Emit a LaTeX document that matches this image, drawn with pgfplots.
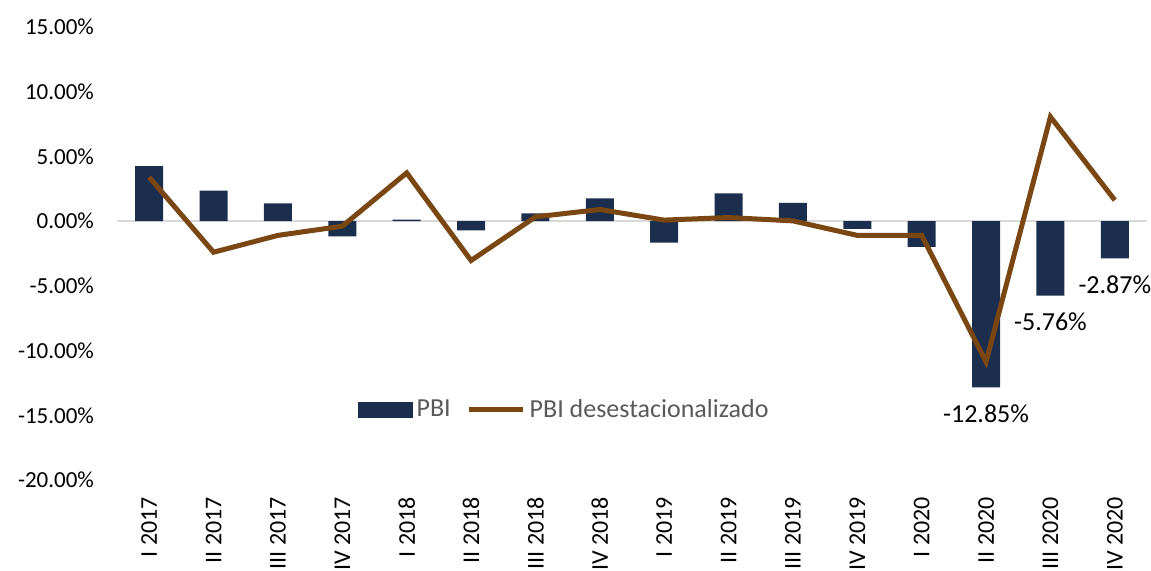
\documentclass[border=0pt]{standalone}
\usepackage{pgfplots}
\pgfplotsset{compat=1.18}
\usepackage{fontspec}
\setmainfont{Carlito}
\definecolor{barblue}{RGB}{27,46,77}
\definecolor{linebrown}{RGB}{122,70,18}
\definecolor{leggray}{RGB}{89,89,89}
\definecolor{zerogray}{RGB}{217,217,217}
\begin{document}
\begin{tikzpicture}
\useasboundingbox (0,0) rectangle (575.5pt,285pt);
\clip (0,0) rectangle (575.5pt,285pt);
\begin{axis}[
  at={(58.5pt,45pt)}, anchor=south west,
  scale only axis, width=515pt, height=226.5pt,
  xmin=-0.5, xmax=15.5, ymin=-20, ymax=15,
  axis line style={draw=none},
  major tick length=0pt,
  ytick={-20,-15,...,15},
  yticklabel={\pgfmathprintnumber[fixed,fixed zerofill,precision=2]{\tick}\%},
  /pgf/number format/assume math mode=true,
  y tick label style={font=\fontsize{11.5}{12}\selectfont, xshift=-8pt},
  xtick={0,...,15},
  xticklabels={I 2017,II 2017,III 2017,IV 2017,I 2018,II 2018,III 2018,IV 2018,I 2019,II 2019,III 2019,IV 2019,I 2020,II 2020,III 2020,IV 2020},
  x tick label style={rotate=90, anchor=east, font=\fontsize{12}{13}\selectfont, xshift=-5pt},
  extra y ticks={0},
  extra y tick labels={},
  extra y tick style={ymajorgrids=true, major grid style={draw=zerogray, line width=1pt}},
  legend columns=2,
  legend style={at={(0.435,0.155)}, anchor=center, draw=none, fill=none,
    font=\fontsize{13}{14}\selectfont, text=leggray,
    /tikz/every even column/.append style={column sep=6pt}},
  clip=false,
]
\addplot[ybar, bar shift=0pt, bar width=14pt, fill=barblue, draw=none,
  legend image code/.code={\fill[barblue] (-4.5pt,-4pt) rectangle (23pt,4pt);}]
  coordinates {
  (0,4.25) (1,2.35) (2,1.37) (3,-1.18) (4,0.12) (5,-0.72) (6,0.6) (7,1.75)
  (8,-1.65) (9,2.14) (10,1.42) (11,-0.6) (12,-1.98) (13,-12.85) (14,-5.76) (15,-2.87)};
\addlegendentry{PBI}
\addplot[linebrown, line width=2.5pt, mark=none,
  legend image code/.code={\draw[linebrown, line width=2.5pt] (-3pt,0pt) -- (24pt,0pt);}]
  coordinates {
  (0,3.4) (1,-2.4) (2,-1.1) (3,-0.39) (4,3.73) (5,-3.04) (6,0.33) (7,0.9)
  (8,0.08) (9,0.28) (10,0.02) (11,-1.1) (12,-1.1) (13,-10.87) (14,8.06) (15,1.62)};
\addlegendentry{PBI desestacionalizado}
\addplot[draw=none, mark=none, forget plot, nodes near coords,
  point meta=explicit symbolic,
  every node near coord/.append style={anchor=north, yshift=-5pt, font=\fontsize{13}{14}\selectfont, text=black}]
  coordinates {(13,-12.85) [-12.85\%] (14,-5.76) [-5.76\%] (15,-2.87) [-2.87\%]};
\end{axis}
\end{tikzpicture}
\end{document}
